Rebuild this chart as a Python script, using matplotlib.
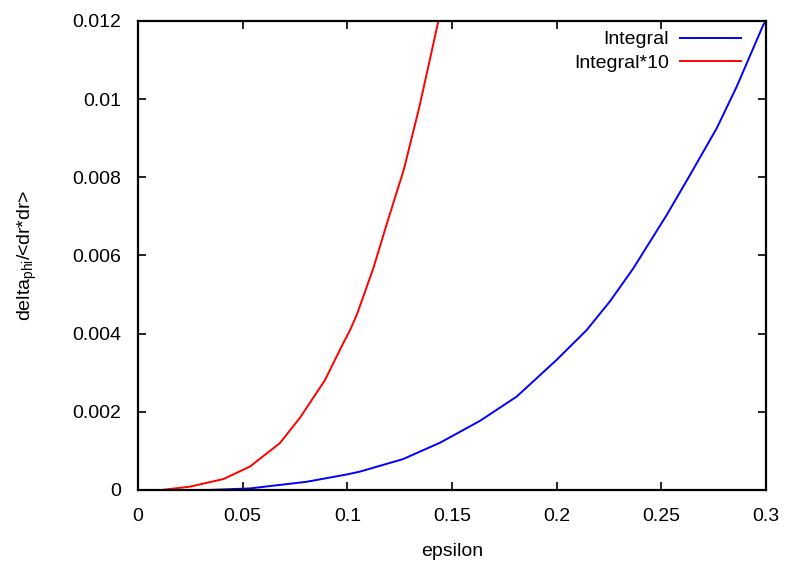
import matplotlib
matplotlib.use("Agg")
import matplotlib.pyplot as plt

plt.rcParams['font.family'] = ['Liberation Sans', 'DejaVu Sans']
plt.rcParams['mathtext.fontset'] = 'custom'
plt.rcParams['mathtext.rm'] = 'Liberation Sans'

# Data
# -------------------------------------------------------------------------------------------
eps_int = [0.0336, 0.0535, 0.0806, 0.10, 0.106, 0.1266, 0.1443, 0.1634, 0.1809, 0.20,
           0.2143, 0.2255, 0.2366, 0.2526, 0.2637, 0.2764, 0.286, 0.2987, 0.30]
val_int = [0.0, 0.00004, 0.00021, 0.0004, 0.00047, 0.00079, 0.00121, 0.00177, 0.00239,
           0.00333, 0.00409, 0.00483, 0.00567, 0.00704, 0.00806, 0.00925, 0.01032,
           0.0119, 0.012]

eps_int10 = [0.0113, 0.0248, 0.0408, 0.0535, 0.0678, 0.0774, 0.0893, 0.0976, 0.1013,
             0.1045, 0.1124, 0.1188, 0.127, 0.1344, 0.1435]
val_int10 = [0.0, 0.000085, 0.00028, 0.0006, 0.0012, 0.00185, 0.00281, 0.00371, 0.00409,
             0.00448, 0.00567, 0.0068, 0.0082, 0.0098, 0.012]

xticks = [0, 0.05, 0.1, 0.15, 0.2, 0.25, 0.3]
xtick_labels = ['0', '0.05', '0.1', '0.15', '0.2', '0.25', '0.3']
yticks = [0, 0.002, 0.004, 0.006, 0.008, 0.01, 0.012]
ytick_labels = ['0', '0.002', '0.004', '0.006', '0.008', '0.01', '0.012']

# Plotting
# -------------------------------------------------------------------------------------------
fig = plt.figure(figsize=(7.85, 5.66), dpi=100)
ax = fig.add_axes([0.1758, 0.1343, 0.8, 0.8286])

ax.plot(eps_int, val_int, color='#0000ff', lw=1.4, label='Integral')
ax.plot(eps_int10, val_int10, color='#ff0000', lw=1.4, label='Integral*10')

ax.set_xlim(0, 0.3)
ax.set_ylim(0, 0.012)
ax.set_xticks(xticks)
ax.set_xticklabels(xtick_labels)
ax.set_yticks(yticks)
ax.set_yticklabels(ytick_labels)
ax.tick_params(direction='in', top=True, right=True, length=6, width=1.2,
               labelsize=14)
ax.tick_params(axis='x', pad=13)
ax.tick_params(axis='y', pad=12)
for s in ax.spines.values():
    s.set_linewidth(1.6)

ax.set_xlabel('epsilon', fontsize=14, labelpad=13)
ax.set_ylabel(r'delta$_\mathregular{phi}$/<dr*dr>', fontsize=14)
ax.yaxis.set_label_coords(-0.158, 0.5)

# Legend: text first, sample line after (gnuplot style)
ax.legend(loc='upper right', frameon=False, markerfirst=False, fontsize=14,
          handlelength=3.1, handletextpad=0.6, labelspacing=0.3,
          borderpad=0.4, borderaxespad=0.9, bbox_to_anchor=(1.0, 1.033))

plt.savefig('out.png', dpi=100)
